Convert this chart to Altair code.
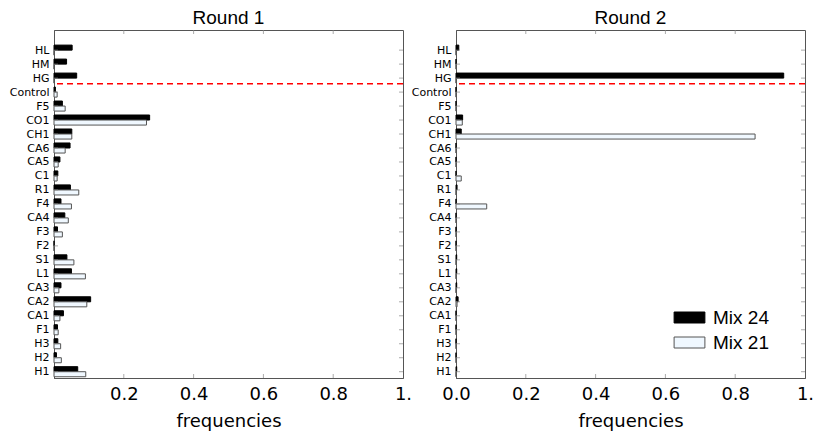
import altair as alt
import pandas as pd

# categories listed bottom to top
categories = ["H1", "H2", "H3", "F1", "CA1", "CA2", "CA3", "L1", "S1", "F2", "F3",
              "CA4", "F4", "R1", "C1", "CA5", "CA6", "CH1", "CO1", "F5", "Control",
              "HG", "HM", "HL"]

r1_mix24 = [0.068, 0.007, 0.011, 0.010, 0.027, 0.105, 0.020, 0.050, 0.037, 0.0, 0.010,
            0.031, 0.020, 0.047, 0.011, 0.017, 0.046, 0.051, 0.274, 0.024, 0.004,
            0.065, 0.036, 0.052]
r1_mix21 = [0.091, 0.021, 0.019, 0.012, 0.017, 0.094, 0.014, 0.090, 0.057, 0.0, 0.024,
            0.041, 0.050, 0.071, 0.009, 0.012, 0.032, 0.051, 0.265, 0.032, 0.009,
            0.0, 0.0, 0.0]
r2_mix24 = [0.002, 0.0, 0.0, 0.0, 0.0, 0.006, 0.002, 0.002, 0.002, 0.0, 0.0,
            0.0, 0.0, 0.003, 0.0, 0.0, 0.0, 0.015, 0.019, 0.0, 0.0,
            0.939, 0.0, 0.008]
r2_mix21 = [0.0, 0.0, 0.0, 0.0, 0.0, 0.003, 0.0, 0.0, 0.0, 0.0, 0.0,
            0.0, 0.088, 0.0, 0.015, 0.0, 0.0, 0.857, 0.018, 0.0, 0.0,
            0.0, 0.0, 0.0]

mixes = ["Mix 24", "Mix 21"]
rounds = ["Round 1", "Round 2"]
x_ticks = [0.0, 0.2, 0.4, 0.6, 0.8, 1.0]
separator = 20.6  # dashed line between controls and treatments

rows = []
for rname, a, b in [("Round 1", r1_mix24, r1_mix21), ("Round 2", r2_mix24, r2_mix21)]:
    for i, c in enumerate(categories):
        rows.append({"round": rname, "cat": c, "idx": i, "mix": "Mix 24", "value": a[i]})
        rows.append({"round": rname, "cat": c, "idx": i, "mix": "Mix 21", "value": b[i]})
df = pd.DataFrame(rows)
cat_df = pd.DataFrame({"idx": list(range(len(categories)))})
xt_df = pd.DataFrame({"v": x_ticks[1:-1]})
sep_df = pd.DataFrame({"sep": [separator]})

W, H = 349, 348
ydom = [-0.45, 24.44]
label_expr = "[" + ",".join("'" + c + "'" for c in categories) + "][datum.value]"
x_label_expr = "datum.value > 0.999 ? '1.\u00a0\u00a0' : format(datum.value, '.1f')"
frame = "#555555"
tickc = "#888888"


def panel(rname, xvals):
    yscale = alt.Scale(domain=ydom, nice=False, zero=False)
    xscale = alt.Scale(domain=[0, 1], nice=False)
    xaxis = alt.Axis(values=xvals, labelExpr=x_label_expr, title="frequencies",
                     grid=False, tickSize=0, labelPadding=7, labelFlush=False,
                     labelOverlap=False, labelFont="DejaVu Sans", labelFontSize=18,
                     labelColor="black", titleFont="DejaVu Sans", titleFontSize=18,
                     titleFontWeight="normal", titleColor="black", titlePadding=9,
                     domainColor=frame)
    yaxis = alt.Axis(values=list(range(len(categories))), labelExpr=label_expr,
                     title=None, grid=False, tickSize=0, labelPadding=5,
                     labelFont="DejaVu Sans", labelFontSize=11, labelColor="black",
                     domainColor=frame, labelOverlap=False, labelFlush=False,
                     labelBound=False)
    bars = alt.Chart(df).transform_filter(
        alt.datum["round"] == rname
    ).transform_calculate(
        y0="datum.mix == 'Mix 24' ? datum.idx : datum.idx - 0.36",
        y1="datum.mix == 'Mix 24' ? datum.idx + 0.36 : datum.idx",
    ).mark_rect(strokeWidth=1).encode(
        x=alt.X("value:Q", scale=xscale, axis=xaxis),
        x2=alt.datum(0),
        y=alt.Y("y0:Q", scale=yscale, axis=yaxis),
        y2="y1:Q",
        fill=alt.Color("mix:N", scale=alt.Scale(domain=mixes, range=["black", "#f0f8ff"]),
                       legend=alt.Legend(title=None, orient="none", legendX=626, legendY=278,
                                         symbolType="M-2.8,-1L2.8,-1L2.8,1L-2.8,1Z",
                                         symbolSize=121, symbolStrokeColor="#666666",
                                         symbolStrokeWidth=1, labelFont="Liberation Sans",
                                         labelFontSize=19, labelColor="black", labelOffset=14,
                                         rowPadding=5, padding=0)),
        stroke=alt.Stroke("mix:N", scale=alt.Scale(domain=mixes, range=["black", "#555555"]),
                          legend=None),
    )
    sep = alt.Chart(sep_df).mark_rule(color="red", strokeDash=[6, 4], strokeWidth=1.5).encode(
        y=alt.Y("sep:Q", scale=yscale, axis=yaxis)
    )
    ytl = alt.Chart(cat_df).mark_tick(orient="horizontal", size=4, thickness=1, color=tickc).encode(
        y=alt.Y("idx:Q", scale=yscale, axis=yaxis), x=alt.value(2))
    ytr = alt.Chart(cat_df).mark_tick(orient="horizontal", size=4, thickness=1, color=tickc).encode(
        y=alt.Y("idx:Q", scale=yscale, axis=yaxis), x=alt.value(W - 2))
    xtt = alt.Chart(xt_df).mark_tick(orient="vertical", size=4, thickness=1, color=tickc).encode(
        x=alt.X("v:Q", scale=xscale, axis=xaxis), y=alt.value(2))
    xtb = alt.Chart(xt_df).mark_tick(orient="vertical", size=4, thickness=1, color=tickc).encode(
        x=alt.X("v:Q", scale=xscale, axis=xaxis), y=alt.value(H - 2))
    return alt.layer(bars, ytl, ytr, xtt, xtb, sep).properties(
        width=W, height=H,
        title=alt.Title(rname, font="Liberation Sans", fontSize=19, fontWeight="normal",
                        color="black", offset=2, anchor="middle"),
    )


chart = alt.hconcat(
    panel("Round 1", x_ticks[1:]),
    panel("Round 2", x_ticks),
    spacing=53, bounds="flush",
).properties(padding={"left": 0, "top": 0, "right": 0, "bottom": 0}).configure_view(
    stroke=frame, strokeWidth=1
).configure_axis(domainWidth=1, labelOverlap=False)

chart.save("out.html", embed_options={"renderer": "svg", "actions": False})
